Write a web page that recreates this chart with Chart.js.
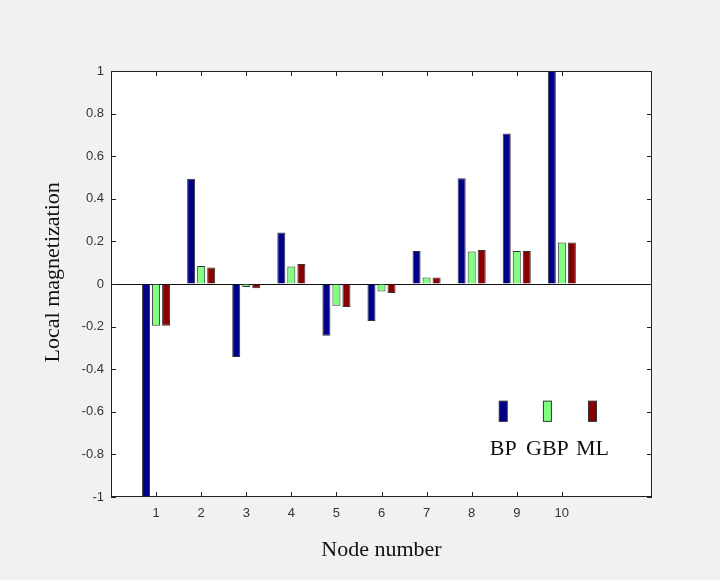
<!DOCTYPE html>
<html>
<head>
<meta charset="utf-8">
<script src="https://cdn.jsdelivr.net/npm/chart.js@4.4.1/dist/chart.umd.min.js"></script>
<style>
  html, body { margin: 0; padding: 0; background: #f1f1f1; }
  #wrap { width: 720px; height: 580px; }
</style>
</head>
<body>
<div id="wrap"><canvas id="chart" width="720" height="580"></canvas></div>
<script>
// values
var nodes = [1, 2, 3, 4, 5, 6, 7, 8, 9, 10];
var bpValues = [-1, 0.494, -0.343, 0.242, -0.243, -0.174, 0.155, 0.496, 0.706, 1];
var gbpValues = [-0.196, 0.084, -0.014, 0.082, -0.102, -0.035, 0.031, 0.152, 0.155, 0.195];
var mlValues = [-0.196, 0.078, -0.02, 0.094, -0.108, -0.042, 0.031, 0.16, 0.155, 0.195];
var seriesNames = ["BP", "GBP", "ML"];
var seriesColors = ["#000088", "#80ff80", "#880000"];
var yTicks = [-1, -0.8, -0.6, -0.4, -0.2, 0, 0.2, 0.4, 0.6, 0.8, 1];
var yTitle = "Local magnetization";

function toPoints(vals) {
    return nodes.map(function (n, i) { return { x: n, y: vals[i] }; });
}

function fmt(v) {
    var r = Math.round(v * 10) / 10;
    if (r === 0) return "0";
    return String(r);
}

// frame, inward tick marks, white plot area, y title and the little legend
var framePlugin = {
    id: "frame",
    beforeDraw: function (chart) {
        var a = chart.chartArea, c = chart.ctx;
        c.save();
        c.fillStyle = "#ffffff";
        c.fillRect(a.left, a.top, a.right - a.left, a.bottom - a.top);
        c.restore();
    },
    afterDatasetsDraw: function (chart) {
        var c = chart.ctx, xs = chart.scales.x, ys = chart.scales.y;
        var legendX = [8.7, 9.68, 10.68];
        c.save();
        for (var i = 0; i < seriesNames.length; i++) {
            var cx = xs.getPixelForValue(legendX[i]);
            var t = ys.getPixelForValue(-0.55), b = ys.getPixelForValue(-0.645);
            c.fillStyle = seriesColors[i];
            c.strokeStyle = "#333";
            c.lineWidth = 1;
            c.fillRect(cx - 4, t, 8, b - t);
            c.strokeRect(cx - 4, t, 8, b - t);
            c.fillStyle = "#111";
            c.font = "22px 'Liberation Serif'";
            c.textAlign = "center";
            c.textBaseline = "middle";
            c.fillText(seriesNames[i], cx, ys.getPixelForValue(-0.775));
        }
        c.restore();
    },
    afterDraw: function (chart) {
        var a = chart.chartArea, c = chart.ctx, xs = chart.scales.x, ys = chart.scales.y;
        c.save();
        c.strokeStyle = "#222";
        c.lineWidth = 1;
        c.strokeRect(a.left + 0.5, a.top + 0.5, a.right - a.left - 1, a.bottom - a.top - 1);
        c.beginPath();
        xs.ticks.forEach(function (t) {
            var px = Math.round(xs.getPixelForValue(t.value)) + 0.5;
            c.moveTo(px, a.bottom); c.lineTo(px, a.bottom - 5);
            c.moveTo(px, a.top); c.lineTo(px, a.top + 5);
        });
        ys.ticks.forEach(function (t) {
            var py = Math.round(ys.getPixelForValue(t.value)) + 0.5;
            c.moveTo(a.left, py); c.lineTo(a.left + 5, py);
            c.moveTo(a.right, py); c.lineTo(a.right - 5, py);
        });
        c.stroke();

        // y axis title, sitting a little above the middle as in the figure
        c.translate(ys.left + 13, ys.getPixelForValue(0.055));
        c.rotate(-Math.PI / 2);
        c.fillStyle = "#111";
        c.font = "22px 'Liberation Serif'";
        c.textAlign = "center";
        c.textBaseline = "middle";
        c.fillText(yTitle, 0, 0);
        c.restore();
    }
};

var ctx = document.getElementById("chart").getContext("2d");
var datasets = [bpValues, gbpValues, mlValues].map(function (vals, i) {
    return {
        label: seriesNames[i],
        data: toPoints(vals),
        backgroundColor: seriesColors[i],
        borderColor: "#333",
        borderWidth: 1,
        categoryPercentage: 0.667,
        barPercentage: 0.8
    };
});

var myChart = new Chart(ctx, {
    type: "bar",
    data: { datasets: datasets },
    plugins: [framePlugin],
    options: {
        responsive: false,
        animation: false,
        layout: { padding: { top: 71, right: 68, left: 40, bottom: 17 } },
        plugins: { legend: { display: false }, tooltip: { enabled: false } },
        scales: {
            x: {
                type: "linear",
                min: 0,
                max: 12,
                offset: false,
                afterBuildTicks: function (s) {
                    s.ticks = nodes.map(function (n) { return { value: n }; });
                },
                afterFit: function (s) { s.height = 66; },
                grid: { display: false, drawTicks: false },
                border: { display: false },
                ticks: {
                    padding: 9,
                    color: "#333",
                    font: { family: "'Liberation Sans'", size: 13 },
                    callback: function (v) { return String(v); }
                },
                title: {
                    display: true,
                    text: "Node number",
                    color: "#111",
                    padding: 0,
                    font: { family: "'Liberation Serif'", size: 22 }
                }
            },
            y: {
                min: -1,
                max: 1,
                afterBuildTicks: function (s) {
                    s.ticks = yTicks.map(function (v) { return { value: v }; });
                },
                afterFit: function (s) { s.width = 71; },
                grid: {
                    drawTicks: false,
                    lineWidth: 1,
                    color: function (c) {
                        return c.tick && Math.abs(c.tick.value) < 1e-9 ? "#111" : "rgba(0,0,0,0)";
                    }
                },
                border: { display: false },
                ticks: {
                    padding: 7,
                    color: "#333",
                    font: { family: "'Liberation Sans'", size: 13 },
                    callback: function (v) { return fmt(v); }
                }
            }
        }
    }
});
</script>
</body>
</html>
